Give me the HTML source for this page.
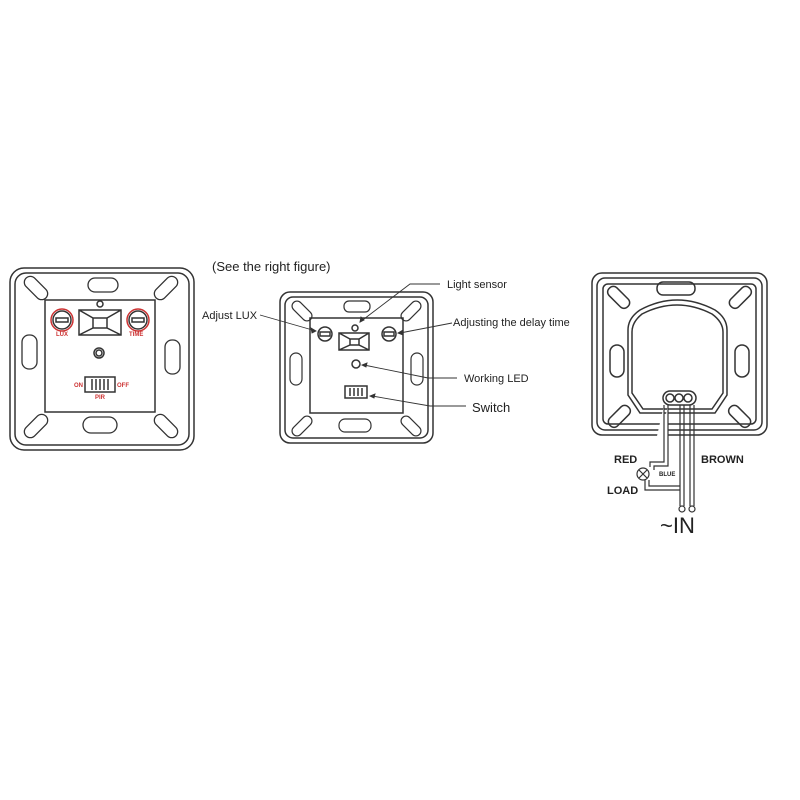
<!DOCTYPE html>
<html><head><style>body{margin:0;background:#fff}svg{display:block}text{font-family:"Liberation Sans",sans-serif;fill:#222}</style></head>
<body>
<svg width="800" height="800" viewBox="0 0 800 800" xmlns="http://www.w3.org/2000/svg" fill="none" stroke="#333" stroke-width="1.5">
<!-- LEFT PLATE -->
<rect x="10" y="268" width="184" height="182" rx="14"/>
<rect x="15" y="273" width="174" height="172" rx="11"/>
<rect x="45" y="300" width="110" height="112"/>
<g stroke-width="1.3">
<rect x="88" y="278" width="30" height="14" rx="7"/>
<rect x="83" y="417" width="34" height="16" rx="8"/>
<rect x="22" y="335" width="15" height="34" rx="7"/>
<rect x="165" y="340" width="15" height="34" rx="7"/>
<rect x="22" y="282" width="28" height="12" rx="6" transform="rotate(45 36 288)"/>
<rect x="152" y="282" width="28" height="12" rx="6" transform="rotate(-45 166 288)"/>
<rect x="22" y="420" width="28" height="12" rx="6" transform="rotate(-45 36 426)"/>
<rect x="152" y="420" width="28" height="12" rx="6" transform="rotate(45 166 426)"/>
</g>
<circle cx="62" cy="320" r="9"/><circle cx="62" cy="320" r="11" stroke="#c33"/><rect x="56" y="318" width="12" height="4"/>
<circle cx="138" cy="320" r="9"/><circle cx="138" cy="320" r="11" stroke="#c33"/><rect x="132" y="318" width="12" height="4"/>
<path d="M79 310 L121 310 L121 335 L79 335 Z M79 310 L93 318 L107 318 L121 310 M79 335 L93 328 L107 328 L121 335 M93 318 V328 M107 318 V328"/>
<circle cx="100" cy="304" r="3"/>
<circle cx="99" cy="353" r="5"/><circle cx="99" cy="353" r="3"/>
<rect x="85" y="377" width="30" height="15"/>
<path d="M92 379V390M96 379V390M100 379V390M104 379V390M108 379V390"/>
<g stroke="none" font-size="6" font-weight="bold">
<text x="56" y="336" style="fill:#c33">LUX</text><text x="129" y="336" style="fill:#c33">TIME</text>
<text x="74" y="387" style="fill:#c33">ON</text><text x="117" y="387" style="fill:#c33">OFF</text><text x="95" y="399" style="fill:#c33">PIR</text></g>
<!-- MIDDLE PLATE -->
<rect x="280" y="292" width="153" height="151" rx="10"/>
<rect x="285" y="297" width="143" height="141" rx="8"/>
<rect x="310" y="318" width="93" height="95"/>
<g stroke-width="1.2">
<rect x="344" y="301" width="26" height="11" rx="5"/>
<rect x="339" y="419" width="32" height="13" rx="6"/>
<rect x="290" y="353" width="12" height="32" rx="6"/>
<rect x="411" y="353" width="12" height="32" rx="6"/>
<rect x="290" y="306" width="24" height="10" rx="5" transform="rotate(45 302 311)"/>
<rect x="399" y="306" width="24" height="10" rx="5" transform="rotate(-45 411 311)"/>
<rect x="290" y="421" width="24" height="10" rx="5" transform="rotate(-45 302 426)"/>
<rect x="399" y="421" width="24" height="10" rx="5" transform="rotate(45 411 426)"/>
</g>
<circle cx="325" cy="334" r="7"/><rect x="320" y="332" width="10" height="4"/>
<circle cx="389" cy="334" r="7"/><rect x="384" y="332" width="10" height="4"/>
<path d="M339 333 L369 333 L369 350 L339 350 Z M339 333 L350 339 L359 339 L369 333 M339 350 L350 345 L359 345 L369 350 M350 339V345M359 339V345"/>
<circle cx="355" cy="328" r="3"/>
<circle cx="356" cy="364" r="4"/>
<rect x="345" y="386" width="22" height="12"/><path d="M350 388V396M354 388V396M358 388V396M362 388V396"/>
<g stroke-width="0.9">
<path d="M440 284 L410 284 L360 322"/><path d="M360 322 l1 -5 l3 3z" fill="#333"/>
<path d="M260 315 L316 331"/><path d="M316 331 l-5 -3 l1 5z" fill="#333"/>
<path d="M452 323 L400 333"/><path d="M398 333 l5 -3 l0 5z" fill="#333"/>
<path d="M457 378 L428 378 L364 365"/><path d="M362 365 l5 -2 l-1 4z" fill="#333"/>
<path d="M466 406 L430 406 L372 396"/><path d="M370 396 l5 -2 l-1 4z" fill="#333"/>
</g>
<g stroke="none">
<text x="212" y="271" font-size="13">(See the right figure)</text>
<text x="447" y="288" font-size="11">Light sensor</text>
<text x="202" y="319" font-size="11">Adjust LUX</text>
<text x="453" y="326" font-size="11">Adjusting the delay time</text>
<text x="464" y="382" font-size="11">Working LED</text>
<text x="472" y="412" font-size="13">Switch</text>
</g>
<!-- RIGHT -->
<rect x="592" y="273" width="175" height="162" rx="10"/>
<rect x="597" y="278" width="165" height="152" rx="8"/>
<rect x="603" y="284" width="153" height="140" rx="5"/>
<path d="M628 330 Q628 318 640 310 Q677 290 715 310 Q727 318 727 330 V395 L715 413 H640 L628 395 Z"/>
<path d="M632 332 Q632 322 642 314 Q677 296 712 314 Q723 322 723 332 V393 L712 409 H643 L632 393 Z"/>
<rect x="657" y="282" width="38" height="13" rx="6"/>
<rect x="610" y="345" width="14" height="32" rx="7"/>
<rect x="735" y="345" width="14" height="32" rx="7"/>
<rect x="606" y="292" width="26" height="11" rx="5" transform="rotate(45 619 297)"/>
<rect x="727" y="292" width="26" height="11" rx="5" transform="rotate(-45 740 297)"/>
<rect x="606" y="411" width="26" height="11" rx="5" transform="rotate(-45 619 416)"/>
<rect x="727" y="411" width="26" height="11" rx="5" transform="rotate(45 740 416)"/>
<rect x="663" y="391" width="33" height="14" rx="7" fill="#fff"/>
<circle cx="670" cy="398" r="4"/><circle cx="679" cy="398" r="4"/><circle cx="688" cy="398" r="4"/>
<g stroke-width="1.2" fill="#fff">
<path d="M664 405 V462 H650 V467 M668 405 V466 H654 V470"/>
<path d="M680 405 V506 M684 405 V506"/>
<path d="M690 405 V506 M694 405 V506"/>
<path d="M645 480 V490 H680 M649 480 V486 H680"/>
<circle cx="643" cy="474" r="6"/>
<path d="M639 470 L647 478 M647 470 L639 478"/>
<circle cx="682" cy="509" r="3"/><circle cx="692" cy="509" r="3"/>
</g>
<g stroke="none" font-weight="bold">
<text x="614" y="463" font-size="11">RED</text>
<text x="701" y="463" font-size="11">BROWN</text>
<text x="607" y="494" font-size="11">LOAD</text>
<text x="659" y="476" font-size="6">BLUE</text>
</g>
<text x="660" y="533" font-size="22" stroke="none">~IN</text>
</svg>
</body></html>
